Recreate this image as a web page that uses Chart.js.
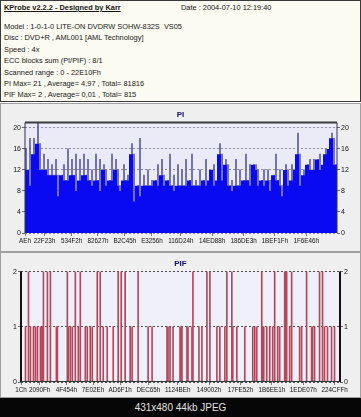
<!DOCTYPE html>
<html>
<head>
<meta charset="utf-8">
<script src="https://cdn.jsdelivr.net/npm/chart.js@4.4.1/dist/chart.umd.min.js"></script>
<style>
  html, body { margin: 0; padding: 0; background: #fff; }
  body { width: 361px; height: 417px; position: relative; overflow: hidden; font-family: "Liberation Sans", Arial, sans-serif; }
  #info { position: absolute; left: 0; top: 0; width: 359px; height: 100px; border: 1px solid #3a3a3a; background: #fbfbf1; }
  #info div { position: absolute; font-size: 7.4px; line-height: 10px; color: #151515; white-space: pre; }
  .panel { position: absolute; left: 0; width: 359px; border: 1px solid #a0a0a0; background: #efefef; }
  canvas { position: absolute; left: 0; }
  #foot { position: absolute; left: 0; top: 398px; width: 361px; height: 19px; background: #060606; color: #e2e2e2; font-size: 10px; line-height: 19px; text-align: center; }
</style>
</head>
<body>
<div id="info"></div>
<div class="panel" style="top:103px;height:147px"></div>
<div class="panel" style="top:252px;height:144px"></div>
<canvas id="pi" width="361" height="146" style="top:104px"></canvas>
<canvas id="pif" width="361" height="144" style="top:253px"></canvas>
<div id="foot">431x480 44kb JPEG</div>
<script>
// header text
const TITLE = "KProbe v2.2.2 - Designed by Karr";
const DATE = "Date : 2004-07-10 12:19:40";
const INFO_LINES = [
  "Model : 1-0-1-0 LITE-ON DVDRW SOHW-832S  VS05",
  "Disc : DVD+R , AML001 [AML Technology]",
  "Speed : 4x",
  "ECC blocks sum (PI/PIF) : 8/1",
  "Scanned range : 0 - 22E10Fh",
  "PI Max= 21 , Average= 4,97 , Total= 81816",
  "PIF Max= 2 , Average= 0,01 , Total= 815"
];

// scan end (sectors, hex)
const SCAN_END = "22E10F";

// PI samples, left to right
const PI_VALUES = [
  16, 12, 18, 9, 18, 15, 21, 17, 12, 15,
  12, 14, 11, 13, 11, 14, 11, 7, 11, 13,
  10, 16, 10, 14, 11, 15, 8, 14, 10, 15,
  11, 14, 10, 12, 9, 15, 10, 14, 8, 13,
  12, 9, 10, 15, 10, 14, 12, 9, 8, 13,
  10, 11, 10, 17, 15, 6, 9, 18, 7, 11,
  9, 12, 9, 10, 9, 10, 13, 9, 14, 11,
  9, 10, 15, 9, 11, 8, 13, 9, 12, 9,
  14, 9, 10, 15, 9, 10, 9, 12, 9, 10,
  14, 9, 10, 12, 13, 9, 10, 17, 15, 10,
  14, 13, 9, 10, 8, 14, 9, 12, 9, 10,
  15, 10, 13, 9, 13, 13, 12, 9, 10, 12,
  9, 12, 10, 8, 11, 15, 10, 12, 9, 7,
  13, 12, 9, 13, 10, 12, 19, 15, 9, 12,
  11, 13, 14, 12, 14, 12, 14, 15, 12, 13,
  16, 15, 16, 19, 18, 13
];
const PI_TICKS = ["AE", "22F23", "534F2", "82627", "B2C45", "E3256", "116D24", "14ED88", "186DE3", "1BEF1F", "1F6E46"];
const PI_Y_TICKS = [0, 2, 4, 6, 8, 10, 12, 14, 16, 18, 20];

// PIF hits: bin position (out of 320) and count
const PIF_BINS = 320;
const PIF_POS = [4, 7, 9, 12, 14, 16, 19, 20, 21, 22, 26, 29, 35, 36, 46, 47, 49, 51, 54, 57, 59, 64, 66, 69, 71, 76, 79, 82, 86, 92,
  97, 100, 104, 109, 111, 117, 127, 131, 146, 147, 149, 152, 159, 160, 161, 166, 167, 171, 172, 178, 181, 186, 189, 196, 199, 204,
  206, 211, 212, 216, 224, 232, 234, 236, 241, 242, 243, 246, 249, 252, 254, 257, 259, 264, 265, 266, 269, 271, 279, 281, 286,
  291, 292, 294, 299, 302, 304, 307, 311, 314];
const PIF_VAL = [1, 2, 1, 1, 1, 1, 1, 1, 1, 2, 2, 2, 1, 1, 2, 1, 1, 1, 2, 1, 2, 1, 1, 1, 1, 2, 2, 1, 1, 1,
  2, 2, 2, 1, 1, 2, 1, 1, 1, 1, 1, 1, 1, 1, 1, 1, 1, 1, 2, 1, 1, 2, 2, 1, 1, 1,
  2, 2, 1, 1, 1, 1, 1, 1, 2, 1, 1, 1, 1, 1, 2, 1, 1, 2, 2, 2, 1, 2, 1, 1, 2,
  1, 1, 1, 2, 2, 1, 1, 1, 1];
const PIF_TICKS = ["1C", "2090F", "4F454", "7E02E", "AD6F1", "DEC65", "1124BE", "149002", "17FE52", "1B6EE1", "1EDE07", "224CFF"];
const PIF_Y_TICKS = [0, 1, 2];

const FONT = "'Liberation Sans', Arial, sans-serif";

// header
const info = document.getElementById("info");
function addText(txt, x, y, css) {
  const d = document.createElement("div");
  d.textContent = txt;
  d.style.left = x + "px";
  d.style.top = y + "px";
  if (css) Object.assign(d.style, css);
  info.appendChild(d);
}
addText(TITLE, 3, 2, { fontWeight: "bold", textDecoration: "underline" });
addText(DATE, 180, 2);
INFO_LINES.forEach((l, i) => addText(l, 3, 21 + i * 11.4));

// plot background + frame
const framePlugin = {
  id: "frame",
  beforeDraw(chart, args, opts) {
    const a = chart.chartArea, c = chart.ctx;
    c.save();
    c.fillStyle = opts.bg;
    c.fillRect(a.left, a.top, a.right - a.left, a.bottom - a.top);
    c.restore();
  },
  afterDatasetsDraw(chart, args, opts) {
    const a = chart.chartArea, c = chart.ctx;
    c.save();
    c.strokeStyle = opts.edge;
    c.lineWidth = opts.edgeWidth;
    c.beginPath();
    c.moveTo(a.left, a.top); c.lineTo(a.left, a.bottom);
    c.moveTo(a.right, a.top); c.lineTo(a.right, a.bottom);
    c.stroke();
    if (opts.top) {
      c.strokeStyle = opts.top;
      c.lineWidth = 2;
      c.beginPath(); c.moveTo(a.left, a.top); c.lineTo(a.right, a.top); c.stroke();
    }
    if (opts.bottom) {
      c.strokeStyle = opts.bottom;
      c.lineWidth = 1;
      c.beginPath(); c.moveTo(a.left, a.bottom - 0.5); c.lineTo(a.right, a.bottom - 0.5); c.stroke();
    }
    c.restore();
  }
};

function yAxis(pos, width, ticks, max, gridColor, onArea) {
  return {
    type: "linear", position: pos, min: 0, max: max,
    afterBuildTicks: (s) => { s.ticks = ticks.map((v) => ({ value: v })); },
    afterFit: (s) => { s.width = width; },
    grid: { drawOnChartArea: onArea, color: gridColor, drawTicks: true, tickLength: 3, tickColor: "#666" },
    border: { display: false, dash: [2, 2] },
    ticks: { font: { size: 7, family: FONT }, color: "#111", padding: 1 }
  };
}

function xAxis(n, ticks, height) {
  const end = parseInt(SCAN_END, 16);
  return {
    type: "linear", min: 0, max: n, offset: false,
    afterBuildTicks: (s) => { s.ticks = ticks.map((h) => ({ value: parseInt(h, 16) / end * n })); },
    afterFit: (s) => { s.height = height; },
    grid: { drawOnChartArea: false, offset: false, tickLength: 3, tickColor: "#777" },
    border: { display: false },
    ticks: {
      autoSkip: false, maxRotation: 0, minRotation: 0, padding: 1,
      font: { size: 6.3, family: FONT }, color: "#111",
      callback: (v, i) => ticks[i] + "h"
    }
  };
}

// PI: thin sample bars, with solid floor where neighbours are as high
const piBars = PI_VALUES.map((v, i) => ({ x: i + 0.5, y: v }));
const piFloor = PI_VALUES.map((v, i) => {
  const a = PI_VALUES[Math.max(i - 1, 0)], b = PI_VALUES[Math.min(i + 1, PI_VALUES.length - 1)];
  const med = [a, v, b].sort((p, q) => p - q)[1];
  return { x: i, y: Math.min(v, med) };
});
piFloor.push({ x: PI_VALUES.length, y: piFloor[piFloor.length - 1].y });

new Chart(document.getElementById("pi"), {
  type: "bar",
  data: {
    datasets: [
      { type: "bar", data: piBars, backgroundColor: "#5a5aa6", barThickness: 1, borderWidth: 0, order: 1 },
      { type: "line", data: piFloor, stepped: "after", fill: "origin", backgroundColor: "#0a0af2",
        borderWidth: 0, pointRadius: 0, order: 0 }
    ]
  },
  options: {
    responsive: false, animation: false, devicePixelRatio: 1,
    layout: { padding: 0 },
    scales: {
      x: xAxis(PI_VALUES.length, PI_TICKS, 17),
      y: yAxis("left", 25, PI_Y_TICKS, 21, "#8a8a9c", true),
      y2: yAxis("right", 24, PI_Y_TICKS, 21, "#8a8a9c", false)
    },
    plugins: {
      legend: { display: false }, tooltip: { enabled: false },
      title: { display: true, text: "PI", color: "#10106a", font: { size: 8, weight: "bold", family: FONT }, padding: { top: 6, bottom: 3 } },
      frame: { bg: "#ebebf7", edge: "#30305a", edgeWidth: 1, top: "#3c3c3c" }
    }
  },
  plugins: [framePlugin]
});

// PIF
const pifBars = PIF_POS.map((p, i) => ({ x: p + 0.5, y: PIF_VAL[i] }));
new Chart(document.getElementById("pif"), {
  type: "bar",
  data: {
    datasets: [{ data: pifBars, backgroundColor: "#b4485a", barThickness: 1, borderWidth: 0 }]
  },
  options: {
    responsive: false, animation: false, devicePixelRatio: 1,
    layout: { padding: 0 },
    scales: {
      x: xAxis(PIF_BINS, PIF_TICKS, 15),
      y: yAxis("left", 21, PIF_Y_TICKS, 2, "#505050", true),
      y2: yAxis("right", 21, PIF_Y_TICKS, 2, "#505050", false)
    },
    plugins: {
      legend: { display: false }, tooltip: { enabled: false },
      title: { display: true, text: "PIF", color: "#10106a", font: { size: 8, weight: "bold", family: FONT }, padding: { top: 6, bottom: 3 } },
      frame: { bg: "#f0f0fb", edge: "#111", edgeWidth: 2, bottom: "#333" }
    }
  },
  plugins: [framePlugin]
});
</script>
</body>
</html>
